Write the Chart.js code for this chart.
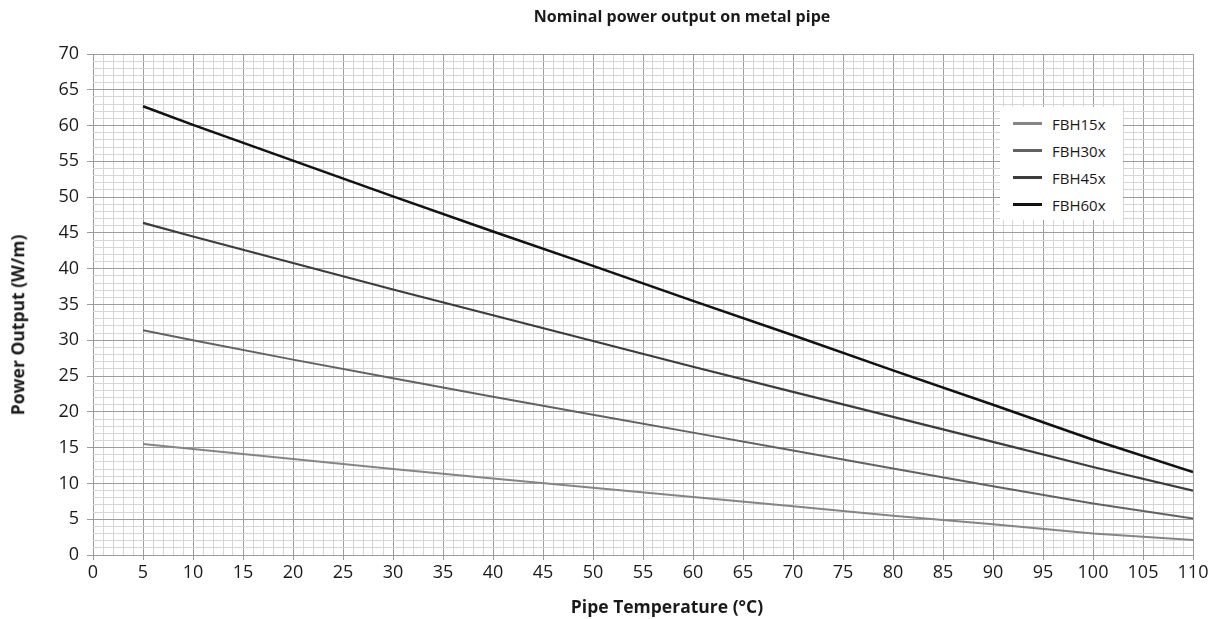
<!DOCTYPE html>
<html>
<head>
<meta charset="utf-8">
<script src="https://cdn.jsdelivr.net/npm/chart.js@4.4.1/dist/chart.umd.min.js"></script>
<style>
  html, body { margin: 0; padding: 0; background: #fff; }
  #wrap { position: relative; width: 1214px; height: 619px; font-family: 'Open Sans', sans-serif; color: #1a1a1a; }
  .ttl { position: absolute; font-weight: bold; white-space: nowrap; line-height: 1; transform: translate(-50%, -50%); }
  #mainTitle { left: 682px; top: 16px; font-size: 16px; }
  #xTitle { left: 667px; top: 607px; font-size: 17.5px; }
  #yTitle { left: 18px; top: 325px; font-size: 17.5px; transform: translate(-50%, -50%) rotate(-90deg); }
  #legend {
    position: absolute; left: 1000px; top: 107px; width: 123px; height: 113px;
    background: #fff; font-size: 15px;
    box-sizing: border-box; padding-top: 3px;
  }
  #legend .row { height: 27px; display: flex; align-items: center; }
  #legend .swatch { width: 29px; margin-left: 13px; margin-right: 10px; }
</style>
</head>
<body>
<div id="wrap">
  <canvas id="myChart" width="1214" height="619"></canvas>
  <div class="ttl" id="mainTitle">Nominal power output on metal pipe</div>
  <div class="ttl" id="xTitle">Pipe Temperature (°C)</div>
  <div class="ttl" id="yTitle">Power Output (W/m)</div>
  <div id="legend"></div>
</div>
<script>
// values
const temps = [5, 10, 20, 30, 40, 50, 60, 70, 80, 90, 100, 110];
const fbh15 = [15.5, 14.8, 13.4, 12.0, 10.7, 9.4, 8.1, 6.8, 5.5, 4.3, 3.0, 2.1];
const fbh30 = [31.4, 30.0, 27.3, 24.7, 22.1, 19.6, 17.1, 14.6, 12.1, 9.6, 7.2, 5.1];
const fbh45 = [46.4, 44.5, 40.8, 37.1, 33.5, 29.9, 26.3, 22.8, 19.3, 15.8, 12.3, 9.0];
const fbh60 = [62.7, 60.1, 55.1, 50.1, 45.2, 40.4, 35.5, 30.7, 25.8, 21.0, 16.1, 11.6];

const seriesNames = ['FBH15x', 'FBH30x', 'FBH45x', 'FBH60x'];
const seriesValues = [fbh15, fbh30, fbh45, fbh60];
const seriesColors = ['#858585', '#626262', '#3c3c3c', '#111111'];
const seriesWidths = [2, 2, 2.2, 2.5];

Chart.defaults.font.family = "'Open Sans', sans-serif";
Chart.defaults.color = '#1a1a1a';

const isMajor = (v) => Math.round(v) % 5 === 0;

const ctx = document.getElementById('myChart').getContext('2d');
const chart = new Chart(ctx, {
  type: 'line',
  data: {
    datasets: seriesNames.map((name, i) => ({
      label: name,
      data: temps.map((t, j) => ({ x: t, y: seriesValues[i][j] })),
      borderColor: seriesColors[i],
      borderWidth: seriesWidths[i],
      pointRadius: 0,
      tension: 0,
      fill: false,
    })),
  },
  options: {
    responsive: false,
    animation: false,
    layout: { padding: { left: 0, right: 21, top: 54, bottom: 0 } },
    scales: {
      x: {
        type: 'linear',
        min: 0,
        max: 110,
        ticks: {
          stepSize: 1,
          autoSkip: false,
          maxRotation: 0,
          padding: 2,
          font: { size: 18 },
          callback: (v) => (isMajor(v) ? String(v) : ''),
        },
        grid: {
          color: (c) => (isMajor(c.tick.value) ? '#9c9c9c' : '#d6d6d6'),
          tickColor: (c) => (isMajor(c.tick.value) ? '#9c9c9c' : 'rgba(0,0,0,0)'),
          tickLength: 5,
          lineWidth: 1,
        },
        border: { display: false },
        afterFit: (s) => { s.height = 64; },
      },
      y: {
        min: 0,
        max: 70,
        ticks: {
          stepSize: 1,
          autoSkip: false,
          padding: 8,
          font: { size: 18 },
          callback: (v) => (isMajor(v) ? String(v) : ''),
        },
        grid: {
          color: (c) => (isMajor(c.tick.value) ? '#9c9c9c' : '#d6d6d6'),
          tickColor: (c) => (isMajor(c.tick.value) ? '#9c9c9c' : 'rgba(0,0,0,0)'),
          tickLength: 6,
          lineWidth: 1,
        },
        border: { display: false },
        afterFit: (s) => { s.width = 93; },
      },
    },
    plugins: {
      legend: { display: false },
      tooltip: { enabled: false },
    },
  },
});

// legend built from the datasets
const legendEl = document.getElementById('legend');
chart.data.datasets.forEach((ds) => {
  const row = document.createElement('div');
  row.className = 'row';
  const sw = document.createElement('div');
  sw.className = 'swatch';
  sw.style.borderTop = (ds.borderWidth + 1) + 'px solid ' + ds.borderColor;
  const label = document.createElement('span');
  label.textContent = ds.label;
  row.appendChild(sw);
  row.appendChild(label);
  legendEl.appendChild(row);
});
</script>
</body>
</html>
